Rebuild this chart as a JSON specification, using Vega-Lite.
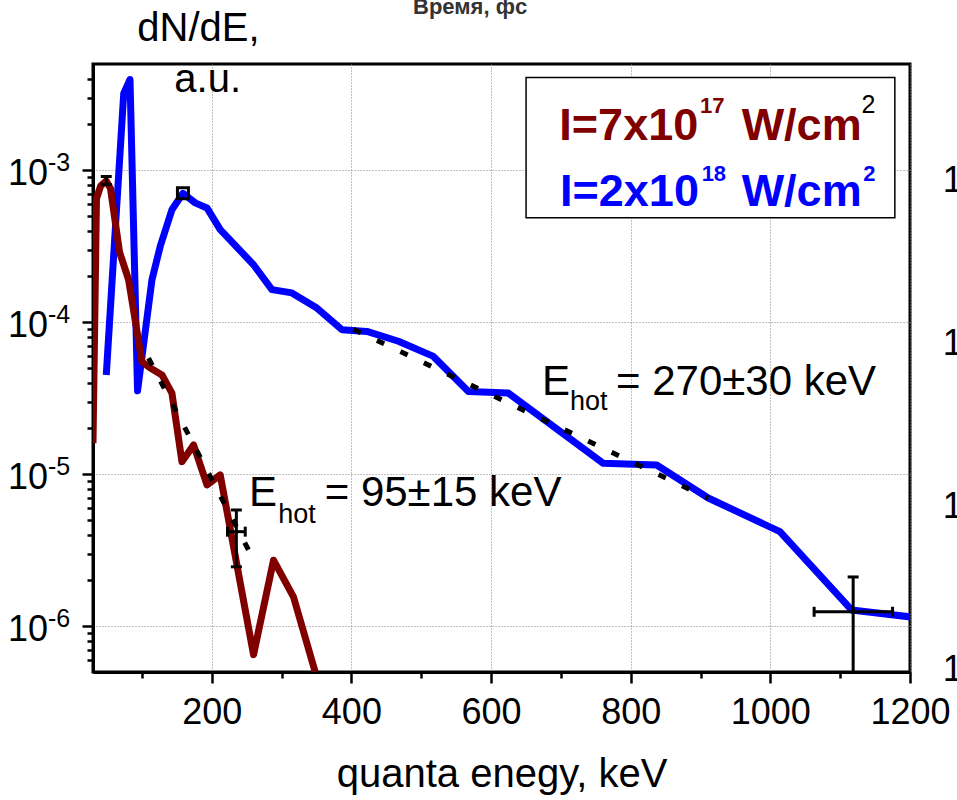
{
  "$schema": "https://vega.github.io/schema/vega-lite/v6.json",
  "width": 817,
  "height": 608,
  "autosize": {"type": "none"},
  "padding": {"left": 93, "top": 64, "right": 47, "bottom": 128},
  "background": "white",
  "config": {
    "view": {"stroke": "black", "strokeWidth": 3},
    "font": "Liberation Sans",
    "axis": {
      "domainColor": "black", "domainWidth": 3, "tickColor": "black", "tickWidth": 2.5,
      "labelColor": "black", "titleColor": "black", "labelFont": "Liberation Sans",
      "titleFont": "Liberation Sans", "titleFontWeight": "normal"
    }
  },
  "resolve": {"axis": {"x": "independent", "y": "independent"}},
  "layer": [
    {
      "data": {"values": [
        {"E": 49, "v": 4.5e-5}, {"E": 74, "v": 3.2e-3}, {"E": 83, "v": 3.95e-3},
        {"E": 93.8, "v": 3.54e-5}, {"E": 114.4, "v": 1.9e-4}, {"E": 126.3, "v": 3.16e-4},
        {"E": 143, "v": 5.5e-4}, {"E": 158.8, "v": 7.05e-4}, {"E": 176.4, "v": 6.1e-4},
        {"E": 193.2, "v": 5.65e-4}, {"E": 212.2, "v": 4.07e-4}, {"E": 259.9, "v": 2.39e-4},
        {"E": 286.2, "v": 1.64e-4}, {"E": 314.8, "v": 1.56e-4}, {"E": 350.6, "v": 1.24e-4},
        {"E": 386.4, "v": 8.93e-5}, {"E": 422.2, "v": 8.7e-5}, {"E": 467.4, "v": 7.5e-5},
        {"E": 517.5, "v": 5.96e-5}, {"E": 567.6, "v": 3.5e-5}, {"E": 624.8, "v": 3.42e-5},
        {"E": 760.8, "v": 1.18e-5}, {"E": 837.2, "v": 1.15e-5}, {"E": 911, "v": 6.98e-6},
        {"E": 1013.7, "v": 4.19e-6}, {"E": 1116.3, "v": 1.28e-6}, {"E": 1202, "v": 1.15e-6}
      ]},
      "mark": {"type": "line", "color": "#0000ff", "strokeWidth": 7, "clip": true, "strokeJoin": "round"},
      "encoding": {
        "x": {"field": "E", "type": "quantitative",
          "scale": {"domain": [30, 1200], "nice": false, "zero": false},
          "axis": {"orient": "bottom", "values": [200, 400, 600, 800, 1000, 1200], "format": "d",
            "grid": true, "gridDash": [1, 2], "gridColor": "#808080", "gridWidth": 1,
            "tickSize": 11, "labelFontSize": 36, "labelBaseline": "alphabetic", "labelPadding": 40,
            "labelFlush": false, "labelOverlap": false, "labelBound": false,
            "title": "quanta enegy, keV", "titleFontSize": 40, "titleY": 114, "titleX": 408.5,
            "titleBaseline": "alphabetic", "titleAlign": "center", "titleAnchor": null}},
        "y": {"field": "v", "type": "quantitative",
          "scale": {"type": "log", "domain": [5e-7, 5e-3], "nice": false},
          "axis": {"orient": "left", "values": [1e-6, 1e-5, 1e-4, 1e-3],
            "grid": true, "gridDash": [1, 2], "gridColor": "#808080", "gridWidth": 1,
            "tickSize": 11, "labels": false, "title": null}}
      }
    },
    {
      "data": {"values": [
        {"E": 30, "v": 1.6e-5}, {"E": 35, "v": 6.5e-4}, {"E": 41, "v": 7.9e-4},
        {"E": 49, "v": 8.5e-4}, {"E": 55, "v": 7.6e-4}, {"E": 68, "v": 2.9e-4},
        {"E": 81, "v": 1.9e-4}, {"E": 100.1, "v": 5.5e-5}, {"E": 112, "v": 5.0e-5},
        {"E": 128.8, "v": 4.5e-5}, {"E": 143, "v": 3.42e-5}, {"E": 157.4, "v": 1.21e-5},
        {"E": 174, "v": 1.56e-5}, {"E": 193.2, "v": 8.5e-6}, {"E": 212.2, "v": 9.9e-6},
        {"E": 259.9, "v": 6.5e-7}, {"E": 288.5, "v": 2.72e-6}, {"E": 317.1, "v": 1.56e-6},
        {"E": 348.2, "v": 5.0e-7}
      ]},
      "mark": {"type": "line", "color": "#800000", "strokeWidth": 7, "clip": true, "strokeJoin": "round"},
      "encoding": {
        "x": {"field": "E", "type": "quantitative",
          "axis": {"orient": "bottom", "values": [100, 300, 500, 700, 900, 1100], "tickSize": 6,
            "labels": false, "domain": false, "grid": false, "title": null}},
        "y": {"field": "v", "type": "quantitative",
          "axis": {"orient": "left", "tickSize": 6, "labels": false, "domain": false, "grid": false, "title": null,
            "values": [6e-7, 7e-7, 8e-7, 9e-7, 2e-6, 3e-6, 4e-6, 5e-6, 6e-6, 7e-6, 8e-6, 9e-6,
              2e-5, 3e-5, 4e-5, 5e-5, 6e-5, 7e-5, 8e-5, 9e-5, 2e-4, 3e-4, 4e-4, 5e-4, 6e-4, 7e-4, 8e-4, 9e-4,
              2e-3, 3e-3, 4e-3]}}
      }
    },
    {
      "data": {"values": [
        {"fit": "a", "E": 109.6, "v": 5.8e-5}, {"fit": "a", "E": 252.8, "v": 3.17e-6},
        {"fit": "b", "E": 403, "v": 9.0e-5}, {"fit": "b", "E": 911, "v": 6.95e-6}
      ]},
      "mark": {"type": "line", "color": "black", "strokeWidth": 5, "strokeDash": [8, 18]},
      "encoding": {
        "x": {"field": "E", "type": "quantitative", "axis": null},
        "y": {"field": "v", "type": "quantitative", "axis": null},
        "detail": {"field": "fit"}
      }
    },
    {
      "data": {"values": [
        {"E": 49, "lo": 8.05e-4, "hi": 9.1e-4},
        {"E": 235.3, "lo": 2.46e-6, "hi": 5.82e-6},
        {"E": 1118.6, "lo": 3e-7, "hi": 2.11e-6}
      ]},
      "mark": {"type": "rule", "color": "black", "strokeWidth": 3, "clip": true},
      "encoding": {
        "x": {"field": "E", "type": "quantitative", "axis": null},
        "y": {"field": "lo", "type": "quantitative", "axis": null},
        "y2": {"field": "hi"}
      }
    },
    {
      "data": {"values": [
        {"v": 4.19e-6, "lo": 222.6, "hi": 248},
        {"v": 1.245e-6, "lo": 1062.7, "hi": 1175}
      ]},
      "mark": {"type": "rule", "color": "black", "strokeWidth": 3},
      "encoding": {
        "x": {"field": "lo", "type": "quantitative", "axis": null},
        "x2": {"field": "hi"},
        "y": {"field": "v", "type": "quantitative", "axis": null}
      }
    },
    {
      "data": {"values": [
        {"E": 49, "v": 8.05e-4}, {"E": 49, "v": 9.1e-4},
        {"E": 235.3, "v": 2.46e-6}, {"E": 235.3, "v": 5.82e-6},
        {"E": 1118.6, "v": 2.11e-6}
      ]},
      "mark": {"type": "tick", "orient": "horizontal", "color": "black", "size": 11, "thickness": 3, "opacity": 1},
      "encoding": {
        "x": {"field": "E", "type": "quantitative", "axis": null},
        "y": {"field": "v", "type": "quantitative", "axis": null}
      }
    },
    {
      "data": {"values": [
        {"E": 222.6, "v": 4.19e-6}, {"E": 248, "v": 4.19e-6},
        {"E": 1062.7, "v": 1.245e-6}, {"E": 1175, "v": 1.245e-6}
      ]},
      "mark": {"type": "tick", "orient": "vertical", "color": "black", "size": 10, "thickness": 3, "opacity": 1},
      "encoding": {
        "x": {"field": "E", "type": "quantitative", "axis": null},
        "y": {"field": "v", "type": "quantitative", "axis": null}
      }
    },
    {
      "data": {"values": [{"E": 158.8, "v": 7.05e-4}]},
      "mark": {"type": "point", "shape": "square", "size": 121, "filled": false, "stroke": "black", "strokeWidth": 3, "opacity": 1},
      "encoding": {
        "x": {"field": "E", "type": "quantitative", "axis": null},
        "y": {"field": "v", "type": "quantitative", "axis": null}
      }
    },
    {
      "data": {"values": [{"x1": 650.2, "x2": 1178.3, "y1": 4.07e-3, "y2": 4.86e-4}]},
      "mark": {"type": "rect", "fill": "white", "stroke": "black", "strokeWidth": 1.5},
      "encoding": {
        "x": {"field": "x1", "type": "quantitative", "axis": null},
        "x2": {"field": "x2"},
        "y": {"field": "y1", "type": "quantitative", "axis": null},
        "y2": {"field": "y2"}
      }
    },
    {
      "data": {"values": [
        {"x": 697.8, "y": 1.593e-3, "t": "I=7x10"}, {"x": 958.9, "y": 1.593e-3, "t": "W/cm"}
      ]},
      "mark": {"type": "text", "font": "Liberation Sans", "fontWeight": "bold", "fontSize": 45, "color": "#800000", "align": "left", "baseline": "alphabetic"},
      "encoding": {
        "x": {"field": "x", "type": "quantitative", "axis": null},
        "y": {"field": "y", "type": "quantitative", "axis": null},
        "text": {"field": "t"}
      }
    },
    {
      "data": {"values": [{"x": 899.2, "y": 2.388e-3, "t": "17"}]},
      "mark": {"type": "text", "font": "Liberation Sans", "fontWeight": "bold", "fontSize": 22, "color": "#800000", "align": "left", "baseline": "alphabetic"},
      "encoding": {
        "x": {"field": "x", "type": "quantitative", "axis": null},
        "y": {"field": "y", "type": "quantitative", "axis": null},
        "text": {"field": "t"}
      }
    },
    {
      "data": {"values": [{"x": 1130.6, "y": 2.388e-3, "t": "2"}]},
      "mark": {"type": "text", "font": "Liberation Sans", "fontSize": 25, "color": "black", "align": "left", "baseline": "alphabetic"},
      "encoding": {
        "x": {"field": "x", "type": "quantitative", "axis": null},
        "y": {"field": "y", "type": "quantitative", "axis": null},
        "text": {"field": "t"}
      }
    },
    {
      "data": {"values": [
        {"x": 698.8, "y": 5.79e-4, "t": "I=2x10"}, {"x": 958.9, "y": 5.79e-4, "t": "W/cm"}
      ]},
      "mark": {"type": "text", "font": "Liberation Sans", "fontWeight": "bold", "fontSize": 45, "color": "#0000ff", "align": "left", "baseline": "alphabetic"},
      "encoding": {
        "x": {"field": "x", "type": "quantitative", "axis": null},
        "y": {"field": "y", "type": "quantitative", "axis": null},
        "text": {"field": "t"}
      }
    },
    {
      "data": {"values": [{"x": 901.6, "y": 8.46e-4, "t": "18"}, {"x": 1132.9, "y": 8.46e-4, "t": "2"}]},
      "mark": {"type": "text", "font": "Liberation Sans", "fontWeight": "bold", "fontSize": 22, "color": "#0000ff", "align": "left", "baseline": "alphabetic"},
      "encoding": {
        "x": {"field": "x", "type": "quantitative", "axis": null},
        "y": {"field": "y", "type": "quantitative", "axis": null},
        "text": {"field": "t"}
      }
    },
    {
      "data": {"values": [
        {"x": 673.1, "y": 3.33e-5, "t": "E"}, {"x": 779, "y": 3.33e-5, "t": "= 270±30 keV"},
        {"x": 253.3, "y": 6.18e-6, "t": "E"}, {"x": 361.8, "y": 6.18e-6, "t": "= 95±15 keV"}
      ]},
      "mark": {"type": "text", "font": "Liberation Sans", "fontSize": 42, "color": "black", "align": "left", "baseline": "alphabetic"},
      "encoding": {
        "x": {"field": "x", "type": "quantitative", "axis": null},
        "y": {"field": "y", "type": "quantitative", "axis": null},
        "text": {"field": "t"}
      }
    },
    {
      "data": {"values": [
        {"x": 713.1, "y": 2.653e-5, "t": "hot"}, {"x": 295.2, "y": 4.8e-6, "t": "hot"}
      ]},
      "mark": {"type": "text", "font": "Liberation Sans", "fontSize": 27, "color": "black", "align": "left", "baseline": "alphabetic"},
      "encoding": {
        "x": {"field": "x", "type": "quantitative", "axis": null},
        "y": {"field": "y", "type": "quantitative", "axis": null},
        "text": {"field": "t"}
      }
    },
    {
      "data": {"values": [
        {"x": 93.4, "y": 7.08e-3, "t": "dN/dE,"}, {"x": 146.4, "y": 3.265e-3, "t": "a.u."}
      ]},
      "mark": {"type": "text", "font": "Liberation Sans", "fontSize": 40, "color": "black", "align": "left", "baseline": "alphabetic"},
      "encoding": {
        "x": {"field": "x", "type": "quantitative", "axis": null},
        "y": {"field": "y", "type": "quantitative", "axis": null},
        "text": {"field": "t"}
      }
    },
    {
      "data": {"values": [{"x": 570, "y": 1.067e-2, "t": "Время, фс"}]},
      "mark": {"type": "text", "font": "Liberation Sans", "fontWeight": "bold", "fontSize": 22, "color": "#333333", "align": "center", "baseline": "alphabetic"},
      "encoding": {
        "x": {"field": "x", "type": "quantitative", "axis": null},
        "y": {"field": "y", "type": "quantitative", "axis": null},
        "text": {"field": "t"}
      }
    },
    {
      "data": {"values": [
        {"x": 1247, "y": 7.24e-4, "t": "10"}, {"x": 1247, "y": 6.1e-5, "t": "10"},
        {"x": 1247, "y": 5.15e-6, "t": "10"}, {"x": 1247, "y": 4.35e-7, "t": "10"}
      ]},
      "mark": {"type": "text", "font": "Liberation Sans", "fontSize": 36, "color": "black", "align": "left", "baseline": "alphabetic"},
      "encoding": {
        "x": {"field": "x", "type": "quantitative", "axis": null},
        "y": {"field": "y", "type": "quantitative", "axis": null},
        "text": {"field": "t"}
      }
    },
    {
      "data": {"values": [
        {"v": 1e-6, "e": "-6"}, {"v": 1e-5, "e": "-5"}, {"v": 1e-4, "e": "-4"}, {"v": 1e-3, "e": "-3"}
      ]},
      "layer": [
        {
          "mark": {"type": "text", "font": "Liberation Sans", "fontSize": 36, "color": "black", "align": "right", "baseline": "alphabetic", "dx": -45, "dy": 15},
          "encoding": {
            "x": {"datum": 30, "type": "quantitative", "axis": null},
            "y": {"field": "v", "type": "quantitative", "axis": null},
            "text": {"value": "10"}
          }
        },
        {
          "mark": {"type": "text", "font": "Liberation Sans", "fontSize": 25, "color": "black", "align": "left", "baseline": "alphabetic", "dx": -45, "dy": 1},
          "encoding": {
            "x": {"datum": 30, "type": "quantitative", "axis": null},
            "y": {"field": "v", "type": "quantitative", "axis": null},
            "text": {"field": "e"}
          }
        }
      ]
    }
  ]
}
